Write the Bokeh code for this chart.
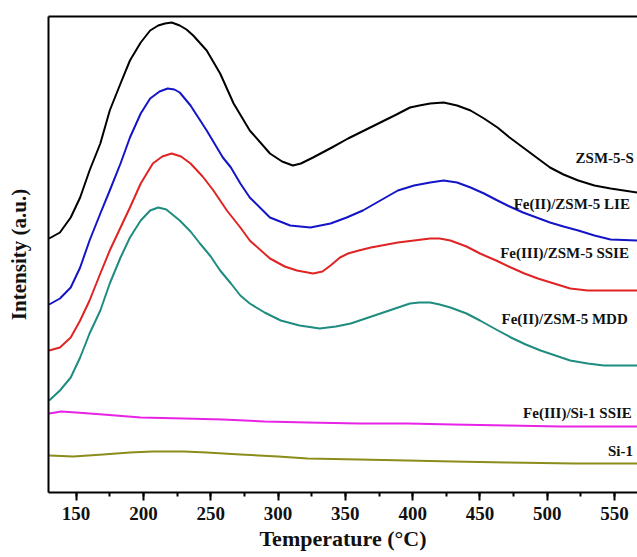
from bokeh.plotting import figure
from bokeh.models import FixedTicker, SingleIntervalTicker, Range1d, Label, LinearAxis
from bokeh.embed import file_html
from bokeh.resources import INLINE

# ---- data (Temperature in degC, intensity in arbitrary units) ----
T_zsm = [130, 138, 146, 153, 160, 168, 175, 183, 190, 198, 205, 211, 216, 221, 227, 232, 237,
         247, 257, 267, 279, 294, 303, 311, 317, 326, 340, 352, 364, 376, 388, 398, 405, 413,
         423, 433, 443, 453, 463, 472, 482, 492, 502, 512, 523, 535, 547, 567]
I_zsm = [254, 260, 275, 295, 322, 349, 382, 409, 432, 450, 462, 467, 469, 470, 467, 463, 457,
         442, 419, 389, 362, 339, 331, 327, 329, 335, 345, 354, 362, 370, 378, 385, 387, 389,
         390, 387, 382, 374, 365, 355, 345, 335, 325, 318, 312, 307, 304, 300]

T_lie = [130, 138, 146, 153, 160, 168, 175, 183, 190, 198, 205, 212, 218, 223, 227, 235, 247,
         259, 265, 272, 279, 294, 309, 324, 339, 351, 363, 376, 389, 401, 413, 423, 433, 443,
         453, 463, 472, 482, 492, 502, 512, 523, 535, 547, 567]
I_lie = [188, 194, 205, 225, 252, 279, 302, 329, 355, 379, 394, 401, 404, 403, 400, 387, 362,
         335, 325, 309, 295, 275, 267, 265, 269, 275, 282, 292, 302, 307, 310, 312, 310, 305,
         299, 292, 286, 280, 275, 270, 266, 262, 257, 253, 252]

T_ssie = [130, 138, 146, 153, 160, 168, 175, 183, 190, 198, 207, 214, 221, 228, 235, 244, 252,
          262, 272, 279, 294, 305, 314, 326, 333, 339, 346, 352, 360, 369, 389, 401, 413, 420,
          428, 440, 450, 462, 473, 483, 493, 505, 517, 530, 542, 567]
I_ssie = [142, 145, 155, 172, 192, 219, 242, 265, 285, 309, 329, 336, 339, 336, 329, 316, 302,
          282, 265, 252, 234, 226, 222, 219, 221, 227, 235, 239, 242, 245, 250, 252, 254, 254,
          252, 246, 239, 232, 225, 219, 214, 209, 204, 202, 202, 202]

T_mdd = [130, 138, 146, 153, 160, 168, 175, 183, 190, 198, 205, 211, 217, 227, 235, 242, 250,
         257, 265, 272, 279, 290, 302, 316, 331, 343, 354, 365, 376, 387, 398, 405, 413, 420,
         428, 440, 450, 462, 473, 484, 495, 506, 517, 530, 542, 567]
I_mdd = [92, 102, 115, 135, 159, 182, 209, 235, 255, 272, 282, 285, 283, 272, 261, 249, 236,
         222, 209, 197, 189, 180, 172, 167, 164, 166, 169, 174, 179, 184, 189, 190, 190, 188,
         185, 179, 172, 163, 155, 148, 142, 137, 132, 129, 127, 127]

T_fesi = [130, 139, 150, 170, 198, 230, 259, 290, 322, 360, 396, 430, 470, 510, 540, 567]
I_fesi = [79, 81, 80, 78, 75, 74, 73, 71, 70, 69, 69, 68, 67, 66, 66, 66]

T_si = [130, 148, 170, 190, 207, 230, 247, 272, 300, 322, 360, 396, 430, 470, 520, 567]
I_si = [37, 36, 38, 40, 41, 41, 40, 38, 36, 34, 33, 32, 31, 30, 29, 29]

series_labels = ["ZSM-5-S", "Fe(II)/ZSM-5 LIE", "Fe(III)/ZSM-5 SSIE",
                 "Fe(II)/ZSM-5 MDD", "Fe(III)/Si-1 SSIE", "Si-1"]
label_T = [521, 475, 465, 466, 482, 545]
label_I = [335, 289, 240, 174, 80, 42]

colors = ["#000000", "#1414c8", "#e02424", "#1f8c80", "#e623e6", "#8c8c1a"]

FONT = "Liberation Serif"

p = figure(width=637, height=557, output_backend="svg", toolbar_location=None,
           x_range=Range1d(129.5, 567), y_range=Range1d(0, 476),
           min_border_left=48, min_border_right=0, min_border_top=16, min_border_bottom=65)
p.outline_line_color = None
p.grid.visible = False
p.background_fill_color = "white"

data = [(T_zsm, I_zsm), (T_lie, I_lie), (T_ssie, I_ssie), (T_mdd, I_mdd),
        (T_fesi, I_fesi), (T_si, I_si)]
for (xs, ys), c in zip(data, colors):
    p.line(xs, ys, line_color=c, line_width=2, line_join="round")

for txt, tx, ty in zip(series_labels, label_T, label_I):
    p.add_layout(Label(x=tx, y=ty, text=txt, text_font=FONT, text_font_style="bold",
                       text_font_size="15px", text_color="#111111",
                       text_baseline="middle", text_align="left"))

# x axis
xa = p.xaxis[0]
xa.ticker = SingleIntervalTicker(interval=50, num_minor_ticks=2)
xa.axis_label = "Temperature (°C)"
xa.axis_label_text_font = FONT
xa.axis_label_text_font_style = "bold"
xa.axis_label_text_font_size = "22px"
xa.axis_label_text_color = "#111111"
xa.axis_label_standoff = 3
xa.major_label_text_font = FONT
xa.major_label_text_font_style = "bold"
xa.major_label_text_font_size = "19px"
xa.major_label_text_color = "#111111"
xa.major_label_standoff = 6
xa.axis_line_width = 2
xa.major_tick_line_width = 2
xa.minor_tick_line_width = 2
xa.major_tick_in = 0
xa.major_tick_out = 8
xa.minor_tick_in = 0
xa.minor_tick_out = 4

# y axis
ya = p.yaxis[0]
ya.ticker = FixedTicker(ticks=[])
ya.axis_label = "Intensity (a.u.)"
ya.axis_label_text_font = FONT
ya.axis_label_text_font_style = "bold"
ya.axis_label_text_font_size = "21px"
ya.axis_label_text_color = "#111111"
ya.axis_label_standoff = 18
ya.axis_line_width = 2
ya.major_tick_line_color = None
ya.minor_tick_line_color = None

# top border: an axis with no ticks and no labels
top = LinearAxis(ticker=FixedTicker(ticks=[]), axis_line_width=2, axis_line_color="black",
                 major_tick_line_color=None, minor_tick_line_color=None)
p.add_layout(top, "above")

open("out.html", "w").write(file_html(p, INLINE))
